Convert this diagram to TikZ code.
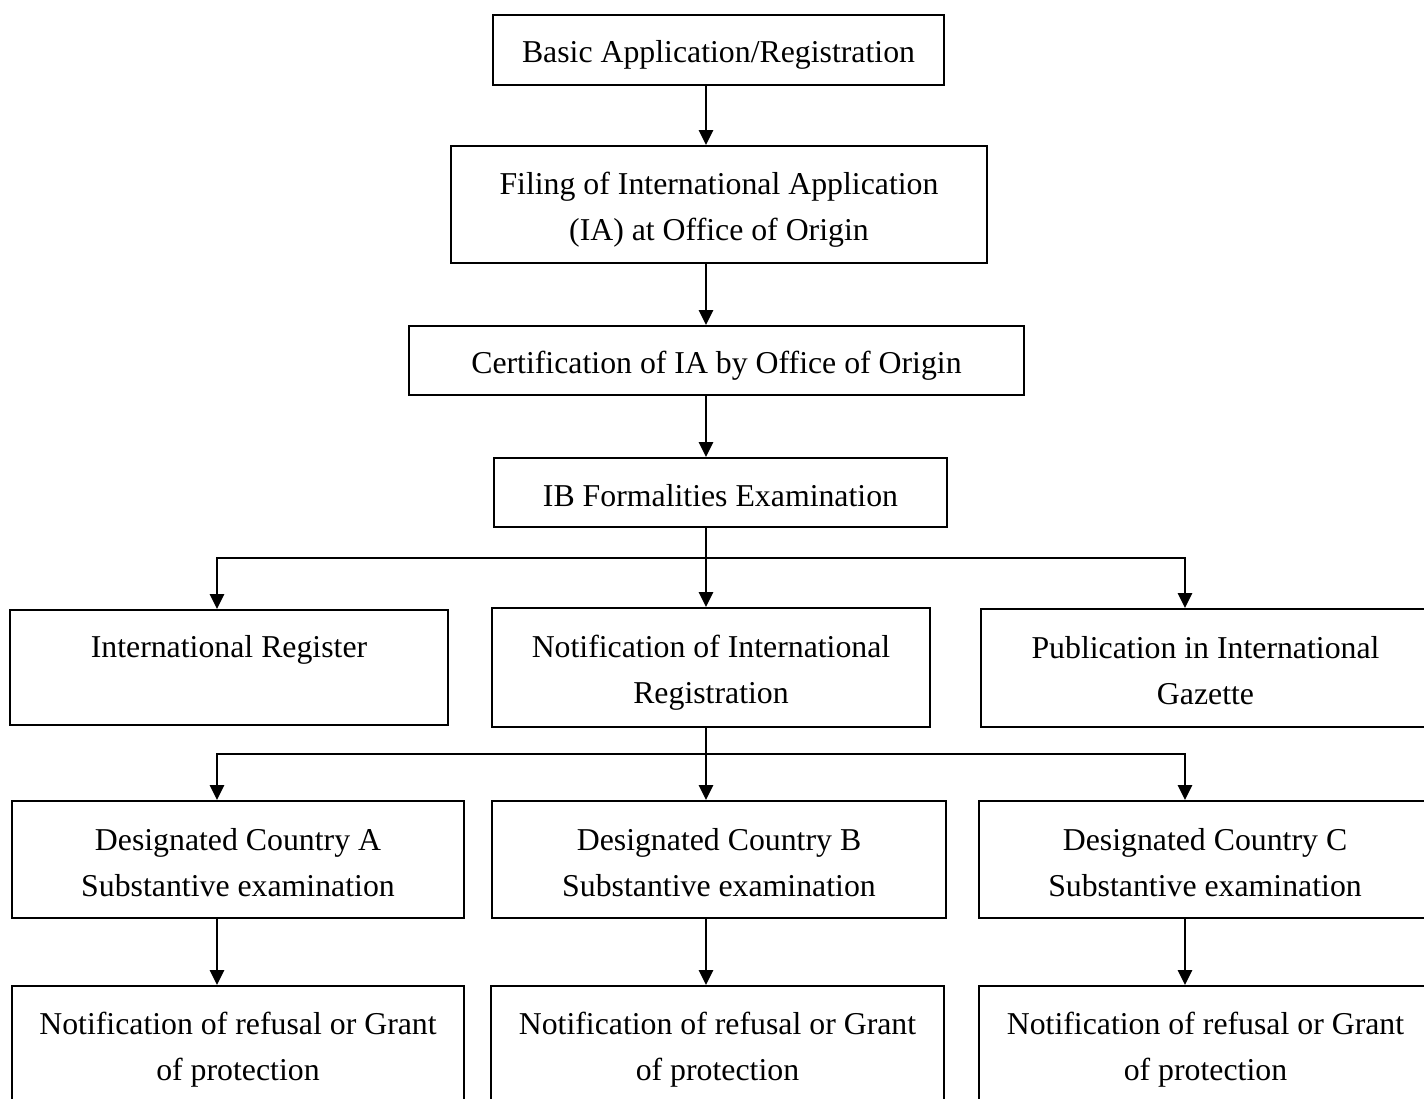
\documentclass[tikz,border=0pt]{standalone}
\usepackage{fontspec}
\setmainfont{Liberation Serif}
\usepackage{tikz}
\usetikzlibrary{positioning,shapes,arrows.meta}

\tikzset{
    stage/.style={rectangle, draw, line width=0.9pt, align=center, inner sep=0pt, font=\fontsize{15.9}{23}\selectfont, execute at begin node={\rule{0pt}{#1}}},
    stage/.default=16pt,
    flow/.style={line width=1.35pt, -{Triangle[width=7pt,length=7.5pt]}}
}

\begin{document}
\begin{tikzpicture}[x=0.5pt, y=-0.5pt]
    \clip (0,0) rectangle (1424,1098);

    % main column
    \node[stage, minimum width=225.5pt, minimum height=35pt] (basic) at (718.5,50) {Basic Application/Registration};
    \node[stage=39pt, minimum width=268pt, minimum height=58.5pt] (filing) at (719,204.5) {Filing of International Application\\(IA) at Office of Origin};
    \node[stage, minimum width=307.5pt, minimum height=34.5pt] (cert) at (716.5,360.5) {Certification of IA by Office of Origin};
    \node[stage=14.5pt, minimum width=226.5pt, minimum height=34.5pt] (ib) at (720.5,492.5) {IB Formalities Examination};

    % second row
    \node[stage=36pt, minimum width=219pt, minimum height=57.5pt] (intreg) at (229,667.5) {International Register\\\mbox{}};
    \node[stage=39pt, minimum width=219pt, minimum height=59.5pt] (notif) at (711,667.5) {Notification of International\\Registration};
    \node[stage=37pt, minimum width=224.5pt, minimum height=59pt] (pub) at (1205.5,668) {Publication in International\\Gazette};

    % designated countries
    \node[stage=37pt, minimum width=226pt, minimum height=58.5pt] (dca) at (238,859.5) {Designated Country A\\Substantive examination};
    \node[stage=37pt, minimum width=227pt, minimum height=58.5pt] (dcb) at (719,859.5) {Designated Country B\\Substantive examination};
    \node[stage=37pt, minimum width=226pt, minimum height=58.5pt] (dcc) at (1205,859.5) {Designated Country C\\Substantive examination};

    % outcomes
    \node[stage=38pt, minimum width=226pt, minimum height=59.5pt] (resa) at (238,1045.5) {Notification of refusal or Grant\\of protection};
    \node[stage=38pt, minimum width=226.5pt, minimum height=59.5pt] (resb) at (717.5,1045.5) {Notification of refusal or Grant\\of protection};
    \node[stage=38pt, minimum width=226.5pt, minimum height=59.5pt] (resc) at (1205.5,1045.5) {Notification of refusal or Grant\\of protection};

    \coordinate (colA) at (217,0);
    \coordinate (colB) at (706,0);
    \coordinate (colC) at (1185,0);
    \coordinate (busone) at (706,558);
    \coordinate (bustwo) at (706,754);

    \draw[flow] (basic.south -| colB) -- (filing.north -| colB);
    \draw[flow] (filing.south -| colB) -- (cert.north -| colB);
    \draw[flow] (cert.south -| colB) -- (ib.north -| colB);

    \draw[flow] (ib.south -| colB) -- (notif.north -| colB);
    \draw[flow] (busone) -| (intreg.north -| colA);
    \draw[flow] (busone) -| (pub.north -| colC);

    \draw[flow] (notif.south -| colB) -- (dcb.north -| colB);
    \draw[flow] (bustwo) -| (dca.north -| colA);
    \draw[flow] (bustwo) -| (dcc.north -| colC);

    \draw[flow] (dca.south -| colA) -- (resa.north -| colA);
    \draw[flow] (dcb.south -| colB) -- (resb.north -| colB);
    \draw[flow] (dcc.south -| colC) -- (resc.north -| colC);
\end{tikzpicture}
\end{document}
